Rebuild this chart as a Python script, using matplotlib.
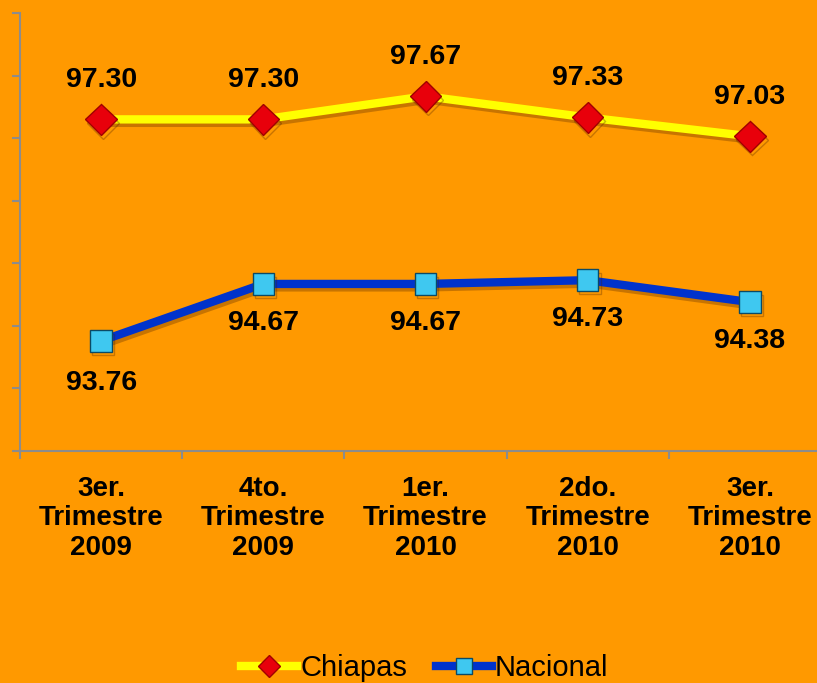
import matplotlib
matplotlib.use('Agg')
import matplotlib.pyplot as plt
import matplotlib.patheffects as pe
from matplotlib.lines import Line2D

# Data
categories = ["3er.\nTrimestre\n2009", "4to.\nTrimestre\n2009", "1er.\nTrimestre\n2010",
              "2do.\nTrimestre\n2010", "3er.\nTrimestre\n2010"]
chiapas = [97.30, 97.30, 97.67, 97.33, 97.03]
nacional = [93.76, 94.67, 94.67, 94.73, 94.38]

BG = '#FF9900'
plt.rcParams['font.family'] = ['Liberation Sans', 'DejaVu Sans']

fig = plt.figure(figsize=(8.17, 6.83), dpi=100, facecolor=BG)
ax = fig.add_axes([20 / 817, 1 - 451 / 683, 811 / 817, 438 / 683])
ax.set_facecolor(BG)

x = list(range(len(categories)))
shadow = [pe.SimpleLineShadow(offset=(1.5, -2.5), shadow_color='#4a2000', alpha=0.3), pe.Normal()]

ax.plot(x, chiapas, color='#FFFF00', lw=6, solid_capstyle='butt', path_effects=shadow, zorder=3)
ax.plot(x, chiapas, ls='none', marker='D', ms=16, mfc='#E8000B', mec='#A00000', mew=1,
        path_effects=shadow, zorder=4)
ax.plot(x, nacional, color='#0033CC', lw=6, solid_capstyle='butt', path_effects=shadow, zorder=3)
ax.plot(x, nacional, ls='none', marker='s', ms=15.5, mfc='#3FC8F0', mec='#0B4A66', mew=1,
        path_effects=shadow, zorder=4)

# value labels
for xi, v in zip(x, chiapas):
    ax.annotate(f"{v:.2f}", (xi, v), xytext=(0, 28.5), textcoords='offset points',
                ha='center', va='center', fontsize=20.5, fontweight='bold', color='black')
for i, (xi, v) in enumerate(zip(x, nacional)):
    off = -30 if i == 0 else -28
    ax.annotate(f"{v:.2f}", (xi, v), xytext=(0, off), textcoords='offset points',
                ha='center', va='center', fontsize=20.5, fontweight='bold', color='black')

ax.set_xlim(-0.5, 4.5)
ax.set_ylim(92, 99)
ax.set_yticks(range(92, 100))
ax.set_yticklabels([])
ax.set_xticks([i + 0.5 for i in range(-1, 5)], minor=False)
ax.set_xticklabels([])
ax.set_xticks(x, minor=True)
ax.set_xticklabels(categories, minor=True, fontsize=20, fontweight='bold', linespacing=1.17)
ax.tick_params(axis='x', which='minor', length=0, pad=18)
ax.tick_params(axis='x', which='major', length=6, color='#8c8c8c', width=1.5)
ax.tick_params(axis='y', length=6, color='#8c8c8c', width=1.5)

for s in ['top', 'right']:
    ax.spines[s].set_visible(False)
for s in ['left', 'bottom']:
    ax.spines[s].set_color('#8c8c8c')
    ax.spines[s].set_linewidth(1.5)

h1 = Line2D([], [], color='#FFFF00', lw=6, marker='D', ms=11, mfc='#E8000B', mec='#A00000')
h2 = Line2D([], [], color='#0033CC', lw=6, marker='s', ms=12, mfc='#3FC8F0', mec='#0B4A66')
fig.legend([h1, h2], ['Chiapas', 'Nacional'], loc='lower center', bbox_to_anchor=(0.52, -0.037),
           ncol=2, frameon=False, fontsize=21, handlelength=1.9, handletextpad=0.12,
           columnspacing=1.0)

fig.savefig('out.png', dpi=100, facecolor=BG)
